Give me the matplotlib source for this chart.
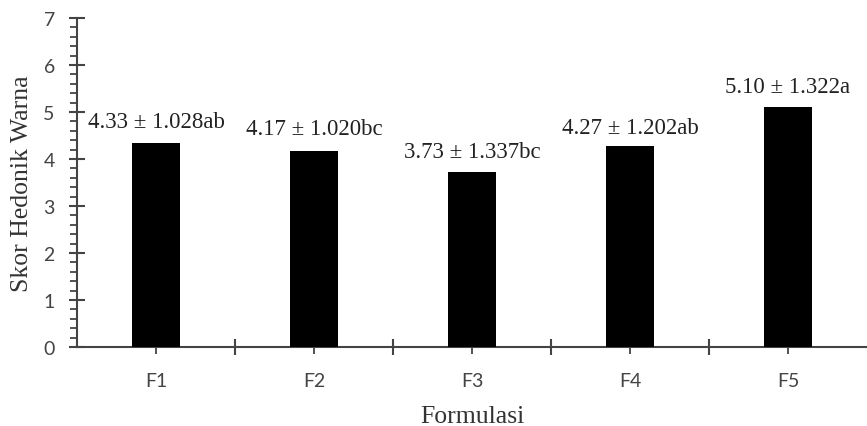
import matplotlib
matplotlib.use("Agg")
import matplotlib.pyplot as plt
from matplotlib.ticker import MultipleLocator, FixedLocator

categories = ["F1", "F2", "F3", "F4", "F5"]
means = [4.33, 4.17, 3.73, 4.27, 5.10]
labels = ["4.33 ± 1.028ab", "4.17 ± 1.020bc", "3.73 ± 1.337bc", "4.27 ± 1.202ab", "5.10 ± 1.322a"]
label_y = [4.79, 4.64, 4.17, 4.68, 5.55]

fig = plt.figure(figsize=(8.67, 4.27), dpi=100)
ax = fig.add_axes([0.0888, 0.185, 0.9112, 0.7705])

x = list(range(len(categories)))
ax.bar(x, means, width=0.31, color="black", zorder=3)

for xi, lab, ly in zip(x, labels, label_y):
    ax.text(xi, ly, lab, ha="center", va="center", fontsize=16.5,
            family="Liberation Serif", color="#222222")

ax.set_xlim(-0.5, 4.5)
ax.set_ylim(0, 7)

for s in ["top", "right"]:
    ax.spines[s].set_visible(False)
for s in ["left", "bottom"]:
    ax.spines[s].set_color("#444444")
    ax.spines[s].set_linewidth(1.5)

ax.yaxis.set_major_locator(MultipleLocator(1))
ax.yaxis.set_minor_locator(MultipleLocator(0.2))
ax.tick_params(axis="y", which="major", direction="inout", length=12, width=1.5,
               color="#444444", labelsize=14, labelcolor="#444444", pad=10)
ax.tick_params(axis="y", which="minor", direction="out", length=5, width=1.3,
               color="#444444")

ax.set_xticks(x)
ax.set_xticklabels(categories)
ax.xaxis.set_minor_locator(FixedLocator([0.5, 1.5, 2.5, 3.5]))
ax.tick_params(axis="x", which="major", direction="out", length=5, width=1.3,
               color="#444444", labelsize=14, labelcolor="#444444", pad=13)
ax.tick_params(axis="x", which="minor", direction="inout", length=12, width=1.5,
               color="#444444")

for t in ax.get_xticklabels() + ax.get_yticklabels():
    t.set_family("Lato")

ax.set_ylabel("Skor Hedonik Warna", family="Liberation Serif", fontsize=18.5,
              color="#333333", va="center")
ax.yaxis.set_label_coords(-0.0696, 0.5)
ax.set_xlabel("Formulasi", family="Liberation Serif", fontsize=18.5,
              color="#333333", va="center")
ax.xaxis.set_label_coords(0.5, -0.21)

fig.savefig("out.png", dpi=100)
